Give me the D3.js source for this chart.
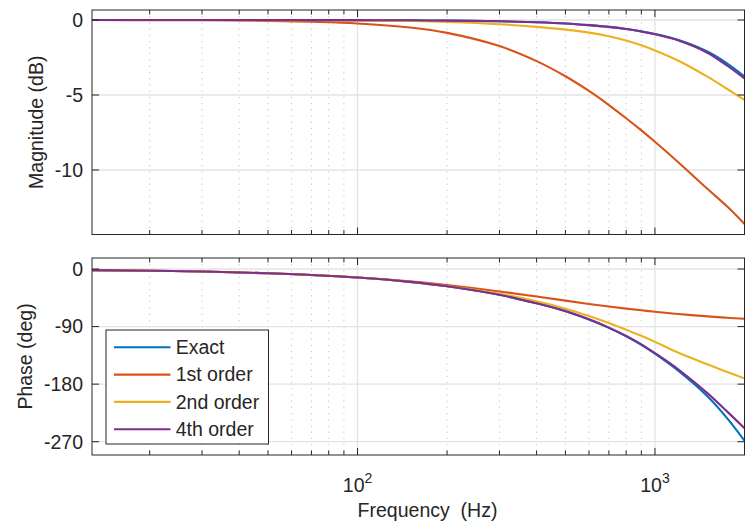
<!DOCTYPE html>
<html><head><meta charset="utf-8">
<script src="https://cdn.jsdelivr.net/npm/d3@7"></script>
<style>
html,body{margin:0;padding:0;background:#fff;}
text{font-family:"Liberation Sans",Arial,Helvetica,sans-serif;fill:#262626;}
</style></head>
<body><svg id="c" width="752" height="523"></svg>
<script>
// ---- data ----
const freq = [12.8, 20, 30, 50, 70, 100, 150, 200, 300, 400, 500, 600, 700, 800, 900, 1000, 1200, 1500, 1750, 2000];
const seriesNames = ["Exact", "1st order", "2nd order", "4th order"];
const seriesColors = ["#0072BD", "#D95319", "#EDB120", "#7E2F8E"];
const magExact = [0, 0, 0, 0, -0.005, -0.01, -0.02, -0.04, -0.08, -0.15, -0.23, -0.34, -0.46, -0.6, -0.76, -0.93, -1.33, -2.1, -2.9, -3.76];
const mag1st   = [-0.004, -0.01, -0.02, -0.06, -0.12, -0.23, -0.5, -0.86, -1.74, -2.74, -3.75, -4.73, -5.67, -6.55, -7.36, -8.12, -9.5, -11.25, -12.44, -13.6];
const mag2nd   = [0, 0, 0, -0.01, -0.015, -0.03, -0.07, -0.13, -0.28, -0.46, -0.64, -0.84, -1.08, -1.37, -1.69, -2.03, -2.72, -3.78, -4.6, -5.33];
const mag4th   = [0, 0, 0, 0, -0.005, -0.01, -0.02, -0.04, -0.08, -0.15, -0.23, -0.34, -0.46, -0.6, -0.77, -0.95, -1.37, -2.18, -3.05, -3.9];
const phExact  = [-1.7, -2.7, -4.0, -6.7, -9.4, -13.4, -20.1, -26.9, -40.3, -53.7, -66, -79, -92, -105.2, -118.6, -132.5, -159.5, -199, -233.5, -268.5];
const ph1st    = [-1.7, -2.7, -4.0, -6.7, -9.3, -13.2, -19.4, -25.1, -35.1, -43.1, -49.5, -54.6, -58.6, -61.9, -64.6, -66.9, -70.4, -74.1, -76.3, -77.8];
const ph2nd    = [-1.7, -2.7, -4.0, -6.7, -9.4, -13.4, -20, -26.6, -38.8, -50.5, -62, -73.5, -84.5, -95, -104.5, -114, -131, -149, -161, -171];
const ph4th    = [-1.7, -2.7, -4.0, -6.7, -9.4, -13.4, -20.1, -26.9, -40.3, -53.7, -65.8, -78.7, -91.6, -104.6, -117.7, -131.5, -157.2, -194, -223, -249];
const magTicks = [0, -5, -10];
const phTicks = [0, -90, -180, -270];
const xMajor = [100, 1000];
const xMinor = [20,30,40,50,60,70,80,90,200,300,400,500,600,700,800,900];
const xLabel = "Frequency  (Hz)";
const magLabel = "Magnitude (dB)";
const phLabel = "Phase (deg)";

// ---- layout ----
const svg = d3.select("#c");
const L = 92, R = 744.5;
const x = d3.scaleLog().domain([12.8, 2000]).range([L, R]);
const axisCol = "#262626";
const FS = 19.5;

const panels = [
  {top:10, bottom:234.5, y:d3.scaleLinear().domain([-14.3, 0.667]).range([234.5, 10]),
   ticks:magTicks, label:magLabel, labelX:36, data:[magExact, mag1st, mag2nd, mag4th]},
  {top:258, bottom:455, y:d3.scaleLinear().domain([-290.8, 17.2]).range([455, 258]),
   ticks:phTicks, label:phLabel, labelX:25, data:[phExact, ph1st, ph2nd, ph4th]}
];

svg.append("rect").attr("width",752).attr("height",523).attr("fill","#fff");

panels.forEach((p, i) => {
  const g = svg.append("g");
  const clipId = "clip" + i;
  svg.append("clipPath").attr("id", clipId).append("rect")
    .attr("x", L).attr("y", p.top).attr("width", R - L).attr("height", p.bottom - p.top);
  // minor grid
  g.selectAll(".mg").data(xMinor).enter().append("line")
    .attr("x1", d=>x(d)).attr("x2", d=>x(d)).attr("y1", p.top).attr("y2", p.bottom)
    .attr("stroke", "#c4c4c4").attr("stroke-width", 1).attr("stroke-dasharray", "1.2,5");
  // major grid
  g.selectAll(".Mg").data(xMajor).enter().append("line")
    .attr("x1", d=>x(d)).attr("x2", d=>x(d)).attr("y1", p.top).attr("y2", p.bottom)
    .attr("stroke", "#e3e3e3").attr("stroke-width", 1.3);
  g.selectAll(".yg").data(p.ticks).enter().append("line")
    .attr("x1", L).attr("x2", R).attr("y1", d=>p.y(d)).attr("y2", d=>p.y(d))
    .attr("stroke", "#e3e3e3").attr("stroke-width", 1.3);
  // curves
  const line = d3.line().x((d,k)=>x(freq[k])).y(d=>p.y(d)).curve(d3.curveCatmullRom.alpha(0.5));
  const cg = g.append("g").attr("clip-path", `url(#${clipId})`);
  p.data.forEach((arr, s) => {
    cg.append("path").attr("d", line(arr)).attr("fill","none")
      .attr("stroke", seriesColors[s]).attr("stroke-width", 2.1);
  });
  // frame
  g.append("rect").attr("x", L).attr("y", p.top).attr("width", R-L).attr("height", p.bottom-p.top)
    .attr("fill","none").attr("stroke", axisCol).attr("stroke-width", 1);
  // x ticks (inward, top and bottom)
  const xt = xMajor.map(v=>({v, len:7})).concat(xMinor.map(v=>({v, len:4.5})));
  xt.forEach(t => {
    g.append("line").attr("x1", x(t.v)).attr("x2", x(t.v)).attr("y1", p.bottom).attr("y2", p.bottom - t.len)
      .attr("stroke", axisCol).attr("stroke-width", 1);
    g.append("line").attr("x1", x(t.v)).attr("x2", x(t.v)).attr("y1", p.top).attr("y2", p.top + t.len)
      .attr("stroke", axisCol).attr("stroke-width", 1);
  });
  // y ticks
  p.ticks.forEach(t => {
    g.append("line").attr("x1", L).attr("x2", L+7).attr("y1", p.y(t)).attr("y2", p.y(t))
      .attr("stroke", axisCol).attr("stroke-width", 1);
    g.append("line").attr("x1", R).attr("x2", R-7).attr("y1", p.y(t)).attr("y2", p.y(t))
      .attr("stroke", axisCol).attr("stroke-width", 1);
    g.append("text").attr("x", L - 9).attr("y", p.y(t)).attr("dy", "0.35em")
      .attr("text-anchor", "end").attr("font-size", FS).text(String(t));
  });
  // y label
  const cy = (p.top + p.bottom) / 2;
  g.append("text").attr("transform", `translate(${p.labelX},${cy}) rotate(-90)`)
    .attr("text-anchor", "middle").attr("dy", "0.35em").attr("font-size", FS).text(p.label);
});

// x tick labels on bottom panel
xMajor.forEach(v => {
  const t = svg.append("text").attr("x", x(v)).attr("y", 491.5).attr("text-anchor", "middle").attr("font-size", FS);
  t.append("tspan").text("10");
  t.append("tspan").attr("dy", -8.5).attr("font-size", 14).text(String(Math.round(Math.log10(v))));
});
svg.append("text").attr("x", 427.5).attr("y", 517).attr("text-anchor", "middle")
  .attr("font-size", FS).style("white-space", "pre").text(xLabel);

// legend
const lg = svg.append("g");
lg.append("rect").attr("x", 106).attr("y", 330).attr("width", 162.5).attr("height", 114)
  .attr("fill", "#fff").attr("stroke", axisCol).attr("stroke-width", 1);
seriesNames.forEach((n, s) => {
  const yy = 347.3 + s * 27.3;
  lg.append("line").attr("x1", 114).attr("x2", 170.5).attr("y1", yy).attr("y2", yy)
    .attr("stroke", seriesColors[s]).attr("stroke-width", 2.1);
  lg.append("text").attr("x", 175.7).attr("y", yy).attr("dy", "0.35em").attr("font-size", FS).attr("fill", "#000").text(n);
});
</script></body></html>
